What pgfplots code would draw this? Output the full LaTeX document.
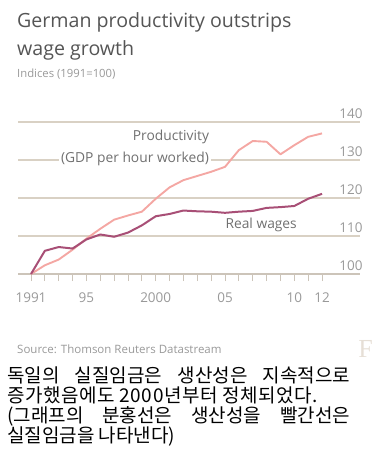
\documentclass[border=0pt]{standalone}
\usepackage{pgfplots}
\pgfplotsset{compat=1.18}
\usepackage{fontspec}
\setmainfont{Open Sans}
\newfontfamily\kr{Noto Sans CJK KR}
\newfontfamily\krsp[LetterSpace=3]{Noto Sans CJK KR}
\newfontfamily\serif{Liberation Serif}
\definecolor{prodc}{HTML}{F4A7A3}
\definecolor{wagec}{HTML}{A84F76}
\definecolor{gridc}{HTML}{D9D1C4}
\definecolor{basec}{HTML}{CCC4B9}
\definecolor{fc}{HTML}{E6DFD6}
\definecolor{titlec}{HTML}{555555}
\definecolor{subc}{HTML}{999999}
\definecolor{labc}{HTML}{707070}
\begin{document}
\begin{tikzpicture}[x=1pt,y=1pt]
\path[use as bounding box] (0,0) rectangle (373,-461);
\node[anchor=base west, inner sep=0, text=titlec, font=\fontsize{19.6}{22}\selectfont] at (17,-27) {German productivity outstrips};
\node[anchor=base west, inner sep=0, text=titlec, font=\fontsize{19.6}{22}\selectfont] at (17,-55) {wage growth};
\node[anchor=base west, inner sep=0, text=subc, font=\fontsize{11.3}{13}\selectfont] at (17,-77) {Indices (1991=100)};
\begin{axis}[
  at={(18pt,-274pt)}, anchor=south west,
  scale only axis, width=342pt, height=152pt,
  xmin=1990.062, xmax=2014.74, ymin=100, ymax=140,
  axis x line*=bottom, axis y line*=right,
  axis line style={draw=none},
  xtick={1991,...,2012},
  xticklabels={1991,,,,95,,,,,2000,,,,,05,,,,,10,,12},
  tick align=outside,
  xtick style={draw=basec, line width=0.9pt, /pgfplots/major tick length=7pt},
  ytick={100,110,120,130,140},
  ytick style={draw=none, /pgfplots/major tick length=0pt},
  tick label style={font=\fontsize{13.5}{15}\selectfont, text=subc},
  xticklabel style={yshift=-11pt},
  yticklabel style={anchor=south east, xshift=0pt, yshift=2pt, inner sep=1.5pt},
  /pgf/number format/assume math mode=true,
  /pgf/number format/1000 sep={},
  clip=false,
]
\draw[basec, line width=1.7pt] (axis cs:1990.062,100) -- (axis cs:2014.74,100);
\draw[gridc, line width=1.7pt] (axis cs:1990.062,110) -- (axis cs:2014.74,110);
\draw[gridc, line width=1.7pt] (axis cs:1990.062,120) -- (axis cs:2014.74,120);
\draw[gridc, line width=1.7pt] (axis cs:1990.062,130) -- (axis cs:2014.74,130);
\draw[gridc, line width=1.7pt] (axis cs:1990.062,140) -- (axis cs:2014.74,140);
\node[anchor=east, text=labc, fill=white, inner sep=2pt, font=\fontsize{13.8}{15}\selectfont] at (axis cs:2004.0,136.1) {Productivity};
\node[anchor=east, text=labc, fill=white, inner sep=2pt, font=\fontsize{13.8}{15}\selectfont] at (axis cs:2004.0,130.3) {(GDP per hour worked)};
\node[anchor=east, text=labc, inner sep=2pt, font=\fontsize{13.8}{15}\selectfont] at (axis cs:2010.34,112.8) {Real wages};
\addplot[prodc, line width=1.9pt, line join=round] coordinates {
(1991,100) (1992,102.3) (1993,103.8) (1994,106.4) (1995,109.3) (1996,111.9)
(1997,114.3) (1998,115.4) (1999,116.4) (2000,119.8) (2001,122.8) (2002,124.7)
(2003,125.8) (2004,126.9) (2005,128.2) (2006,132.6) (2007,135.0) (2008,134.8)
(2009,131.5) (2010,133.9) (2011,136.1) (2012,137.0)};
\addplot[wagec, line width=2pt, line join=round] coordinates {
(1991,100) (1992,106.1) (1993,107.1) (1994,106.7) (1995,109.1) (1996,110.4)
(1997,109.8) (1998,110.9) (1999,112.8) (2000,115.2) (2001,115.8) (2002,116.7)
(2003,116.5) (2004,116.4) (2005,116.1) (2006,116.4) (2007,116.6) (2008,117.4)
(2009,117.6) (2010,117.9) (2011,119.8) (2012,121.1)};
\end{axis}
\node[anchor=base west, inner sep=0, text=subc, font=\fontsize{11.5}{13}\selectfont] at (17,-353) {Source: Thomson Reuters Datastream};
\node[anchor=base east, inner sep=0, text=fc, font=\serif\fontsize{26}{28}\selectfont] at (373,-357) {F};
\node[anchor=base west, inner sep=0, font=\kr\fontsize{19}{21}\selectfont] at (7,-382) {\makebox[343pt][s]{독일의 실질임금은 생산성은 지속적으로}};
\node[anchor=base west, inner sep=0, font=\krsp\fontsize{19}{21}\selectfont] at (7,-402) {증가했음에도 2000년부터 정체되었다.};
\node[anchor=base west, inner sep=0, font=\kr\fontsize{19}{21}\selectfont] at (7,-422) {\makebox[343pt][s]{(그래프의 분홍선은 생산성을 빨간선은}};
\node[anchor=base west, inner sep=0, font=\kr\fontsize{19}{21}\selectfont] at (7,-442) {실질임금을 나타낸다)};
\end{tikzpicture}
\end{document}
